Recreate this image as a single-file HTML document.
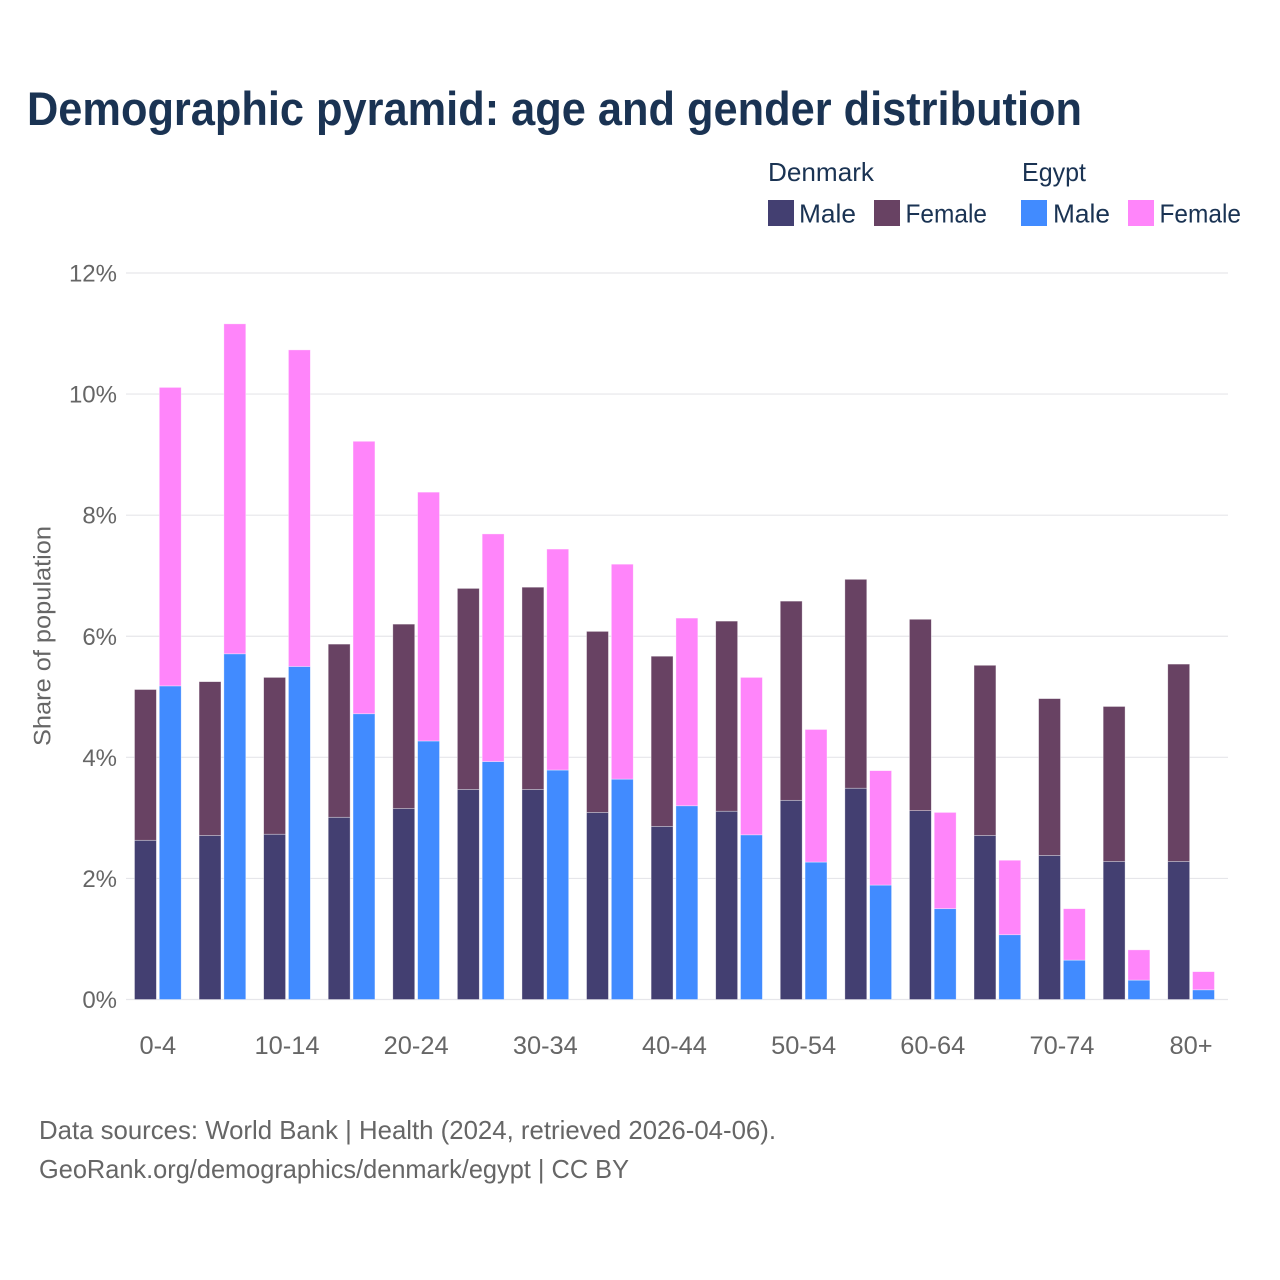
<!DOCTYPE html>
<html lang="en">
<head>
<meta charset="utf-8">
<title>Demographic pyramid</title>
<style>
html,body{margin:0;padding:0;background:#fff;width:1280px;height:1280px;overflow:hidden}
svg{display:block;font-family:"Liberation Sans",sans-serif}
</style>
</head>
<body>
<svg id="chart" xmlns="http://www.w3.org/2000/svg" width="1280" height="1280" viewBox="0 0 1280 1280">
  <rect x="0" y="0" width="1280" height="1280" fill="#fff"/>
  <text x="27" y="125" font-size="47" font-weight="700" fill="#1a3353" textLength="1055" lengthAdjust="spacingAndGlyphs">Demographic pyramid: age and gender distribution</text>

  <g font-size="26" fill="#1a3353">
    <text x="768" y="181" textLength="106" lengthAdjust="spacingAndGlyphs">Denmark</text>
    <text x="1022" y="181" textLength="64" lengthAdjust="spacingAndGlyphs">Egypt</text>
    <rect x="768" y="200" width="26" height="26" fill="#433f71"/>
    <text x="799" y="222.5" textLength="57" lengthAdjust="spacingAndGlyphs">Male</text>
    <rect x="874" y="200" width="26" height="26" fill="#684263"/>
    <text x="905.5" y="222.5" textLength="81.5" lengthAdjust="spacingAndGlyphs">Female</text>
    <rect x="1021" y="200" width="26" height="26" fill="#418bff"/>
    <text x="1053" y="222.5" textLength="57" lengthAdjust="spacingAndGlyphs">Male</text>
    <rect x="1128" y="200" width="26" height="26" fill="#ff85fa"/>
    <text x="1159.5" y="222.5" textLength="81.5" lengthAdjust="spacingAndGlyphs">Female</text>
  </g>

  <g id="grid"></g>
  <g id="y-ticks"></g>
  <g id="bars"></g>
  <g id="x-ticks"></g>

  <text transform="translate(50.5,636) rotate(-90)" text-anchor="middle" font-size="24" fill="#666" textLength="220" lengthAdjust="spacingAndGlyphs">Share of population</text>

  <text x="39" y="1139" font-size="26" fill="#666" textLength="737" lengthAdjust="spacingAndGlyphs">Data sources: World Bank | Health (2024, retrieved 2026-04-06).</text>
  <text x="39" y="1178" font-size="26" fill="#666" textLength="590" lengthAdjust="spacingAndGlyphs">GeoRank.org/demographics/denmark/egypt | CC BY</text>
</svg>
<script>
const categories = ["0-4","5-9","10-14","15-19","20-24","25-29","30-34","35-39","40-44","45-49","50-54","55-59","60-64","65-69","70-74","75-79","80+"];
const denmarkMale = [2.63,2.71,2.73,3.01,3.155,3.47,3.47,3.09,2.86,3.11,3.29,3.49,3.12,2.71,2.38,2.28,2.28];
const denmarkFemale = [2.49,2.54,2.59,2.86,3.045,3.32,3.34,2.99,2.81,3.14,3.29,3.45,3.16,2.81,2.59,2.56,3.26];
const egyptMale = [5.18,5.71,5.50,4.72,4.27,3.93,3.79,3.64,3.20,2.72,2.27,1.89,1.50,1.07,0.65,0.32,0.16];
const egyptFemale = [4.93,5.45,5.23,4.50,4.11,3.76,3.65,3.55,3.10,2.60,2.19,1.89,1.59,1.23,0.85,0.50,0.30];
const yTickValues = [0,2,4,6,8,10,12];

const NS = "http://www.w3.org/2000/svg";
const plotLeft = 126, plotRight = 1228, plotBottom = 999.5, plotTop = 273;
const yMax = 12;
const firstCenter = 157.85, lastCenter = 1191.1;
const barWidth = 21.9, barGap = 2.9;

function yScale(v) { return plotBottom - (v / yMax) * (plotBottom - plotTop); }
function xCenter(i) { return firstCenter + i * (lastCenter - firstCenter) / (categories.length - 1); }

function make(tag, attrs, parent) {
  const el = document.createElementNS(NS, tag);
  for (const k in attrs) el.setAttribute(k, attrs[k]);
  parent.appendChild(el);
  return el;
}

const gridG = document.getElementById("grid");
const yG = document.getElementById("y-ticks");
yTickValues.forEach(function (v) {
  const line = make("line", {x1: plotLeft, x2: plotRight, y1: yScale(v), y2: yScale(v), stroke: "#e6e6ea", "stroke-width": 1.2}, gridG);
  
  
  const label = make("text", {x: 117, y: yScale(v) + 8.5, "text-anchor": "end", "font-size": 24, fill: "#666"}, yG);
  label.textContent = v + "%";
  
  
});

const barsG = document.getElementById("bars");
function drawSegment(x, base, value, color, name) {
  const top = yScale(base + value);
  const bottom = yScale(base);
  const r = make("rect", {x: x, y: top, width: barWidth, height: bottom - top, fill: color, stroke: "#fff", "stroke-opacity": 0.5, "stroke-width": 0.7}, barsG);
  
  
}

categories.forEach(function (cat, i) {
  const c = xCenter(i);
  const leftX = c - barGap / 2 - barWidth;
  const rightX = c + barGap / 2;
  drawSegment(leftX, 0, denmarkMale[i], "#433f71", 'bar-denmark-male-' + cat);
  drawSegment(leftX, denmarkMale[i], denmarkFemale[i], "#684263", 'bar-denmark-female-' + cat);
  drawSegment(rightX, 0, egyptMale[i], "#418bff", 'bar-egypt-male-' + cat);
  drawSegment(rightX, egyptMale[i], egyptFemale[i], "#ff85fa", 'bar-egypt-female-' + cat);
});

const xG = document.getElementById("x-ticks");
categories.forEach(function (cat, i) {
  if (i % 2 !== 0) return;
  const t = make("text", {x: xCenter(i), y: 1054, "text-anchor": "middle", "font-size": 25.4, fill: "#666"}, xG);
  t.textContent = cat;
  
  
});
</script>
</body>
</html>
